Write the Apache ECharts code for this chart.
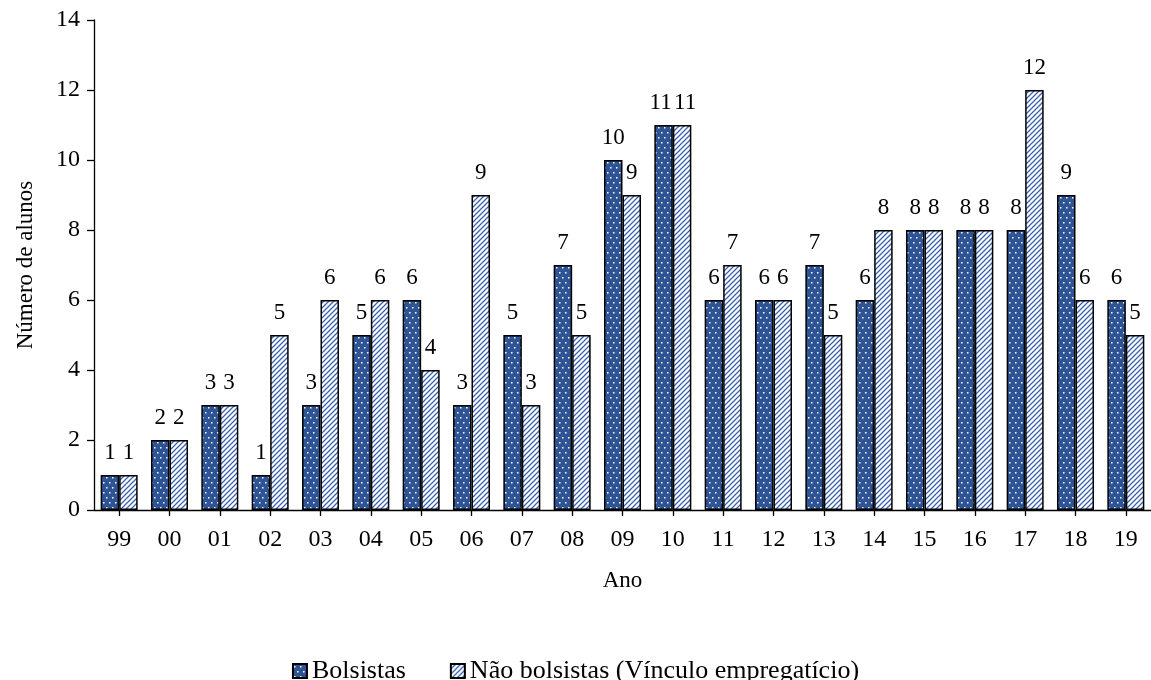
<!DOCTYPE html>
<html>
<head>
<meta charset="utf-8">
<script src="https://cdn.jsdelivr.net/npm/echarts@6/dist/echarts.min.js"></script>
<style>
  html, body { margin: 0; padding: 0; background: #fff; }
  #chart { width: 1151px; height: 680px; }
</style>
</head>
<body>
<div id="chart"></div>
<script>
// Year labels (two-digit)
const anos = ['99', '00', '01', '02', '03', '04', '05', '06', '07', '08', '09',
              '10', '11', '12', '13', '14', '15', '16', '17', '18', '19'];
// Students with scholarship
const bolsistas = [1, 2, 3, 1, 3, 5, 6, 3, 5, 7, 10, 11, 6, 6, 7, 6, 8, 8, 8, 9, 6];
// Students without scholarship (employed)
const naoBolsistas = [1, 2, 3, 5, 6, 6, 4, 9, 3, 5, 9, 11, 7, 6, 5, 8, 8, 8, 12, 6, 5];
// Y-axis range
const yTicks = { min: 0, max: 14, step: 2 };

const FONT = '"Liberation Serif", "Times New Roman", serif';
const BLUE = '#2F5496';

// Dark blue fill with small white dots
function dotPattern() {
  const c = document.createElement('canvas');
  c.width = 6; c.height = 10;
  const g = c.getContext('2d');
  g.fillStyle = BLUE;
  g.fillRect(0, 0, 6, 10);
  g.fillStyle = '#ffffff';
  g.fillRect(1, 2, 1.5, 1.5);
  g.fillRect(4, 7, 1.5, 1.5);
  return c;
}

// White fill with thin blue diagonal stripes
function stripePattern() {
  const s = 5;
  const c = document.createElement('canvas');
  c.width = s; c.height = s;
  const g = c.getContext('2d');
  g.fillStyle = '#ffffff';
  g.fillRect(0, 0, s, s);
  g.strokeStyle = '#3B62AE';
  g.lineWidth = 1.3;
  g.beginPath();
  g.moveTo(-1, s + 1); g.lineTo(s + 1, -1);
  g.moveTo(-1, 1); g.lineTo(1, -1);
  g.moveTo(s - 1, s + 1); g.lineTo(s + 1, s - 1);
  g.stroke();
  return c;
}

// When both labels of a year have two digits, push them slightly apart
function withSpread(values, other, dir) {
  return values.map((v, i) => {
    if (v >= 10 && other[i] >= 10) {
      return { value: v, label: { offset: [dir * 3, 0] } };
    }
    return v;
  });
}

const chart = echarts.init(document.getElementById('chart'), null, { renderer: 'canvas' });

const labelCfg = {
  show: true,
  position: 'top',
  distance: 11,
  color: '#000',
  fontFamily: FONT,
  fontSize: 23
};

chart.setOption({
  animation: false,
  backgroundColor: '#ffffff',
  textStyle: { fontFamily: FONT },
  grid: { left: 94, top: 20, width: 1059, height: 490, containLabel: false },
  legend: {
    left: 'center',
    top: 653,
    itemWidth: 14,
    itemHeight: 14,
    itemGap: 44,
    icon: 'rect',
    textStyle: { fontFamily: FONT, fontSize: 26, color: '#000' },
    data: ['Bolsistas', 'Não bolsistas (Vínculo empregatício)']
  },
  xAxis: {
    type: 'category',
    data: anos,
    name: 'Ano',
    nameLocation: 'middle',
    nameGap: 59,
    nameTextStyle: { fontFamily: FONT, fontSize: 23, color: '#000' },
    axisLine: { show: true, lineStyle: { color: '#000', width: 1.3 } },
    axisTick: { show: true, alignWithLabel: true, length: 6, lineStyle: { color: '#000', width: 1.3 } },
    axisLabel: { color: '#000', fontFamily: FONT, fontSize: 24, margin: 18 },
    splitLine: { show: false }
  },
  yAxis: {
    type: 'value',
    min: yTicks.min,
    max: yTicks.max,
    interval: yTicks.step,
    name: 'Número de alunos',
    nameLocation: 'middle',
    nameGap: 57,
    nameTextStyle: { fontFamily: FONT, fontSize: 23, color: '#000' },
    axisLine: { show: true, lineStyle: { color: '#000', width: 1.3 } },
    axisTick: { show: true, length: 7, lineStyle: { color: '#000', width: 1.3 } },
    axisLabel: { color: '#000', fontFamily: FONT, fontSize: 24, margin: 14 },
    splitLine: { show: false }
  },
  series: [
    {
      name: 'Bolsistas',
      type: 'bar',
      data: withSpread(bolsistas, naoBolsistas, -1),
      barWidth: 18.5,
      barGap: '0%',
      itemStyle: {
        color: { image: dotPattern(), repeat: 'repeat' },
        borderColor: '#000',
        borderWidth: 1.5
      },
      label: labelCfg
    },
    {
      name: 'Não bolsistas (Vínculo empregatício)',
      type: 'bar',
      data: withSpread(naoBolsistas, bolsistas, 1),
      barWidth: 18.5,
      barGap: '0%',
      itemStyle: {
        color: { image: stripePattern(), repeat: 'repeat' },
        borderColor: '#000',
        borderWidth: 1.5
      },
      label: labelCfg
    }
  ]
});
</script>
</body>
</html>
